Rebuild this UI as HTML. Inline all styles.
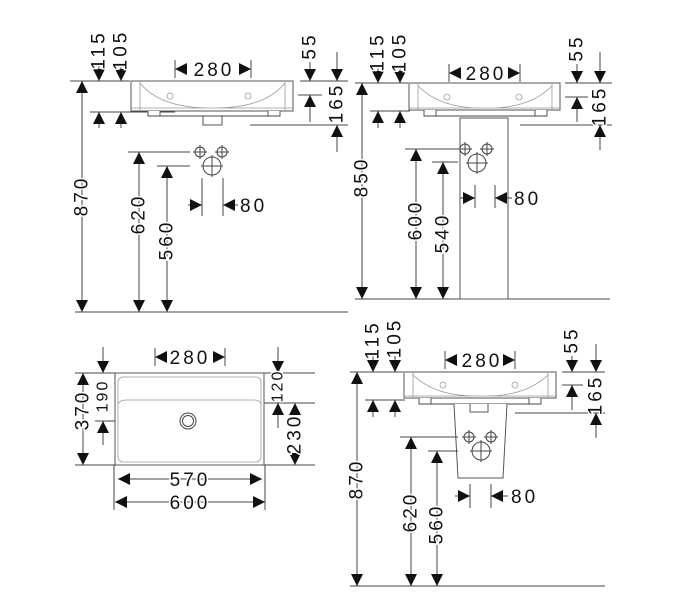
<!DOCTYPE html>
<html><head><meta charset="utf-8"><style>
html,body{margin:0;padding:0;background:#fff}
svg{display:block}
text{font-family:"Liberation Sans",sans-serif;font-size:19px;letter-spacing:3px;fill:#111;stroke:#fff;stroke-width:3px;paint-order:stroke}
.s{font-size:16px;letter-spacing:2px}
.l{stroke:#444;stroke-width:1;fill:none}
.b{stroke:#555;stroke-width:1;fill:#fff}
.t{stroke:#999;stroke-width:0.8;fill:none}
</style></head><body>
<svg width="679" height="600" viewBox="0 0 679 600" xmlns="http://www.w3.org/2000/svg">
<defs>
<polygon id="dn" points="-6,-12 6,-12 0,0" fill="#111"/>
<polygon id="up" points="-6,12 6,12 0,0" fill="#111"/>
<polygon id="rt" points="-12,-6 -12,6 0,0" fill="#111"/>
<polygon id="lt" points="12,-6 12,6 0,0" fill="#111"/>
<g id="holes">
<circle cx="0" cy="0" r="5" class="l"/><path d="M-7 0H7M0 -7V7" class="l"/>
<circle cx="22" cy="0" r="5" class="l"/><path d="M15 0H29M22 -7V7" class="l"/>
<circle cx="12" cy="14" r="9" class="l"/><path d="M1 14H23M12 3V25" class="l"/>
</g>
</defs>

<!-- ========== Q1 ========== -->
<path class="l" d="M70 81H130 M300 81H348 M90 112H175 M250 125H348 M298 95H322 M75 312H348"/>
<rect x="131" y="81" width="162" height="30" class="b"/>
<path class="t" d="M140 81V111 M285 81V111 M140 83Q160 108 210 108 M285 83Q265 108 215 108 M131 108H293"/>
<circle cx="170" cy="96" r="3" class="t"/><circle cx="248" cy="96" r="3" class="t"/>
<path class="b" d="M148 111V116H160V111 M268 111V116H280V111 M203 116V125H222V116"/>
<path class="l" d="M148 116H280"/>
<path class="l" d="M99 66V81 M121 66V81 M99 112V128 M121 112V128"/>
<use href="#dn" x="99" y="81"/><use href="#dn" x="121" y="81"/>
<use href="#up" x="99" y="112"/><use href="#up" x="121" y="112"/>
<text transform="translate(99,50) rotate(-90)" text-anchor="middle" dominant-baseline="central">115</text>
<text transform="translate(121,50) rotate(-90)" text-anchor="middle" dominant-baseline="central">105</text>
<path class="l" d="M175 60V78 M251 60V78"/>
<use href="#lt" x="175" y="69"/><use href="#rt" x="251" y="69"/>
<text x="214" y="76" text-anchor="middle">280</text>
<path class="l" d="M310 62V81 M337 52V81 M310 95V122 M337 125V152"/>
<use href="#dn" x="310" y="81"/><use href="#dn" x="337" y="81"/>
<use href="#up" x="310" y="95"/><use href="#up" x="337" y="125"/>
<text transform="translate(310,46) rotate(-90)" text-anchor="middle" dominant-baseline="central">55</text>
<text transform="translate(337,103) rotate(-90)" text-anchor="middle" dominant-baseline="central">165</text>
<path class="l" d="M82 81V312"/>
<use href="#up" x="82" y="81"/><use href="#dn" x="82" y="312"/>
<text transform="translate(82,196) rotate(-90)" text-anchor="middle" dominant-baseline="central">870</text>
<use href="#holes" x="200" y="152"/>
<path class="l" d="M128 152H190 M157 166H190 M202 178V216 M223 178V216 M188 205H202 M223 205H238"/>
<use href="#rt" x="202" y="205"/><use href="#lt" x="223" y="205"/>
<text x="240" y="212">80</text>
<path class="l" d="M139 152V312 M167 166V312"/>
<use href="#up" x="139" y="152"/><use href="#dn" x="139" y="312"/>
<use href="#up" x="167" y="166"/><use href="#dn" x="167" y="312"/>
<text transform="translate(139,214) rotate(-90)" text-anchor="middle" dominant-baseline="central">620</text>
<text transform="translate(167,240) rotate(-90)" text-anchor="middle" dominant-baseline="central">560</text>

<!-- ========== Q2 ========== -->
<path class="l" d="M355 83H408 M565 83H612 M370 111H410 M520 125H612 M565 97H588 M355 299H610"/>
<rect x="409" y="83" width="151" height="27" class="b"/>
<path class="t" d="M418 83V110 M552 83V110 M418 86Q440 108 480 108 M552 86Q530 108 490 108 M409 108H560"/>
<circle cx="447" cy="97" r="3" class="t"/><circle cx="519" cy="97" r="3" class="t"/>
<path class="b" d="M424 110V116H436V110 M535 110V116H547V110 M475 118V125H493V118"/>
<path class="l" d="M424 116H547"/>
<rect x="460" y="118" width="48" height="181" class="b"/>
<path class="l" d="M378 68V83 M400 68V83 M378 111V128 M400 111V128"/>
<use href="#dn" x="378" y="83"/><use href="#dn" x="400" y="83"/>
<use href="#up" x="378" y="111"/><use href="#up" x="400" y="111"/>
<text transform="translate(378,52) rotate(-90)" text-anchor="middle" dominant-baseline="central">115</text>
<text transform="translate(400,52) rotate(-90)" text-anchor="middle" dominant-baseline="central">105</text>
<path class="l" d="M449 64V82 M520 64V82"/>
<use href="#lt" x="449" y="73"/><use href="#rt" x="520" y="73"/>
<text x="486" y="80" text-anchor="middle">280</text>
<path class="l" d="M577 64V83 M600 52V83 M577 97V122 M600 125V150"/>
<use href="#dn" x="577" y="83"/><use href="#dn" x="600" y="83"/>
<use href="#up" x="577" y="97"/><use href="#up" x="600" y="125"/>
<text transform="translate(577,48) rotate(-90)" text-anchor="middle" dominant-baseline="central">55</text>
<text transform="translate(600,106) rotate(-90)" text-anchor="middle" dominant-baseline="central">165</text>
<path class="l" d="M362 83V299"/>
<use href="#up" x="362" y="83"/><use href="#dn" x="362" y="299"/>
<text transform="translate(362,177) rotate(-90)" text-anchor="middle" dominant-baseline="central">850</text>
<use href="#holes" x="465" y="149"/>
<path class="l" d="M405 149H458 M432 162H458 M475 185V208 M495 185V208 M460 198H475 M495 198H512"/>
<use href="#rt" x="475" y="198"/><use href="#lt" x="495" y="198"/>
<text x="514" y="205">80</text>
<path class="l" d="M416 149V299 M443 162V299"/>
<use href="#up" x="416" y="149"/><use href="#dn" x="416" y="299"/>
<use href="#up" x="443" y="162"/><use href="#dn" x="443" y="299"/>
<text transform="translate(416,220) rotate(-90)" text-anchor="middle" dominant-baseline="central">600</text>
<text transform="translate(443,233) rotate(-90)" text-anchor="middle" dominant-baseline="central">540</text>

<!-- ========== Q3 ========== -->
<path class="l" d="M75 373H115 M263 373H315 M75 465H115 M263 465H315 M95 421H115 M263 403H315 M114 465V510 M265 465V510"/>
<rect x="115" y="373" width="149" height="92" class="b"/>
<rect x="118" y="377" width="143" height="85" rx="5" class="t"/>
<path class="t" d="M118 404Q120 400 126 400H254Q260 400 261 404"/>
<circle cx="188" cy="421" r="8" class="l"/><circle cx="188" cy="421" r="5.5" class="l"/>
<path class="l" d="M155 348V366 M225 348V366"/>
<use href="#lt" x="155" y="357"/><use href="#rt" x="225" y="357"/>
<text x="190" y="364" text-anchor="middle">280</text>
<path class="l" d="M103 347V373 M103 421V445"/>
<use href="#dn" x="103" y="373"/><use href="#up" x="103" y="421"/>
<text class="s" transform="translate(103,396) rotate(-90)" text-anchor="middle" dominant-baseline="central">190</text>
<path class="l" d="M83 373V465"/>
<use href="#up" x="83" y="373"/><use href="#dn" x="83" y="465"/>
<text transform="translate(83,410) rotate(-90)" text-anchor="middle" dominant-baseline="central">370</text>
<path class="l" d="M278 347V373 M278 403V428"/>
<use href="#dn" x="278" y="373"/><use href="#up" x="278" y="403"/>
<text class="s" transform="translate(278,386) rotate(-90)" text-anchor="middle" dominant-baseline="central">120</text>
<use href="#up" x="295" y="403"/><use href="#dn" x="295" y="465"/>
<text transform="translate(295,434) rotate(-90)" text-anchor="middle" dominant-baseline="central">230</text>
<path class="l" d="M118 479H262 M115 502H265"/>
<use href="#lt" x="118" y="479"/><use href="#rt" x="262" y="479"/>
<use href="#lt" x="115" y="502"/><use href="#rt" x="265" y="502"/>
<text x="190" y="486" text-anchor="middle">570</text>
<text x="190" y="509" text-anchor="middle">600</text>

<!-- ========== Q4 ========== -->
<path class="l" d="M350 372H403 M562 372H605 M365 400H405 M515 413H605 M562 385H583 M350 586H605"/>
<rect x="404" y="372" width="152" height="26" class="b"/>
<path class="t" d="M413 372V398 M548 372V398 M413 375Q435 396 475 396 M548 375Q526 396 486 396 M404 396H556"/>
<circle cx="443" cy="385" r="3" class="t"/><circle cx="515" cy="385" r="3" class="t"/>
<path class="b" d="M419 398V404H431V398 M529 398V404H541V398"/>
<path class="l" d="M419 404H541"/>
<path class="b" d="M454 404L458 478H503L507 404"/>
<path class="b" d="M470 404V412H488V404"/>
<path class="l" d="M373 356V372 M395 356V372 M373 400V417 M395 400V417"/>
<use href="#dn" x="373" y="372"/><use href="#dn" x="395" y="372"/>
<use href="#up" x="373" y="400"/><use href="#up" x="395" y="400"/>
<text transform="translate(373,340) rotate(-90)" text-anchor="middle" dominant-baseline="central">115</text>
<text transform="translate(395,338) rotate(-90)" text-anchor="middle" dominant-baseline="central">105</text>
<path class="l" d="M445 351V369 M515 351V369"/>
<use href="#lt" x="445" y="360"/><use href="#rt" x="515" y="360"/>
<text x="482" y="367" text-anchor="middle">280</text>
<path class="l" d="M572 356V372 M596 344V372 M572 385V410 M596 413V438"/>
<use href="#dn" x="572" y="372"/><use href="#dn" x="596" y="372"/>
<use href="#up" x="572" y="385"/><use href="#up" x="596" y="413"/>
<text transform="translate(572,340) rotate(-90)" text-anchor="middle" dominant-baseline="central">55</text>
<text transform="translate(596,395) rotate(-90)" text-anchor="middle" dominant-baseline="central">165</text>
<path class="l" d="M357 372V586"/>
<use href="#up" x="357" y="372"/><use href="#dn" x="357" y="586"/>
<text transform="translate(357,479) rotate(-90)" text-anchor="middle" dominant-baseline="central">870</text>
<use href="#holes" x="469" y="437"/>
<path class="l" d="M400 437H458 M428 451H458 M470 484V508 M491 484V508 M455 496H470 M491 496H508"/>
<use href="#rt" x="470" y="496"/><use href="#lt" x="491" y="496"/>
<text x="511" y="503">80</text>
<path class="l" d="M411 437V586 M437 451V586"/>
<use href="#up" x="411" y="437"/><use href="#dn" x="411" y="586"/>
<use href="#up" x="437" y="451"/><use href="#dn" x="437" y="586"/>
<text transform="translate(411,512) rotate(-90)" text-anchor="middle" dominant-baseline="central">620</text>
<text transform="translate(437,524) rotate(-90)" text-anchor="middle" dominant-baseline="central">560</text>
</svg>
</body></html>
